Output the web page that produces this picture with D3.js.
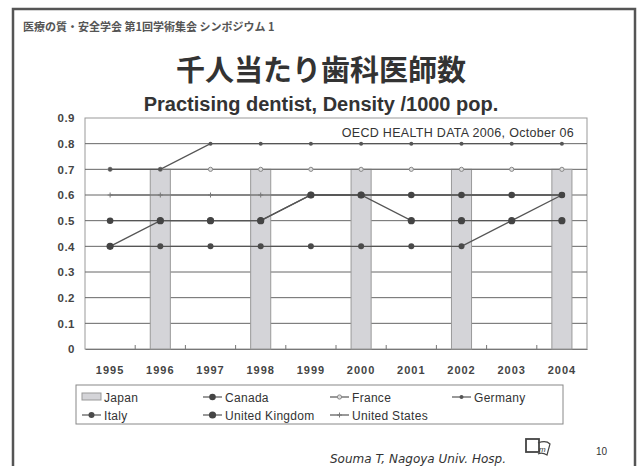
<!DOCTYPE html>
<html>
<head>
<meta charset="utf-8">
<script src="https://cdn.jsdelivr.net/npm/d3@7"></script>
<style>
  body { margin: 0; background: #fff; }
  svg { display: block; font-family: "Liberation Sans", Arial, sans-serif; }
</style>
</head>
<body>
<svg id="chart" width="641" height="466"></svg>
<script>
// years on the x axis
const years = ["1995", "1996", "1997", "1998", "1999", "2000", "2001", "2002", "2003", "2004"];
const yTicks = [0, 0.1, 0.2, 0.3, 0.4, 0.5, 0.6, 0.7, 0.8, 0.9];

// Japan is only surveyed every second year
const japan = [null, 0.7, null, 0.7, null, 0.7, null, 0.7, null, 0.7];
const canada = [0.5, 0.5, 0.5, 0.5, 0.6, 0.6, 0.6, 0.6, 0.6, 0.6];
const france = [0.7, 0.7, 0.7, 0.7, 0.7, 0.7, 0.7, 0.7, 0.7, 0.7];
const germany = [0.7, 0.7, 0.8, 0.8, 0.8, 0.8, 0.8, 0.8, 0.8, 0.8];
const italy = [0.4, 0.4, 0.4, 0.4, 0.4, 0.4, 0.4, 0.4, 0.5, 0.6];
const uk = [0.4, 0.5, 0.5, 0.5, 0.6, 0.6, 0.5, 0.5, 0.5, 0.5];
const usa = [0.6, 0.6, 0.6, 0.6, 0.6, 0.6, 0.6, 0.6, 0.6, 0.6];

const lineSeries = [
  { name: "United States", values: usa, marker: "plus" },
  { name: "France", values: france, marker: "tri" },
  { name: "Germany", values: germany, marker: "small" },
  { name: "Italy", values: italy, marker: "dot" },
  { name: "Canada", values: canada, marker: "diamond" },
  { name: "United Kingdom", values: uk, marker: "big" }
];

const legendRows = [
  ["Japan", "Canada", "France", "Germany"],
  ["Italy", "United Kingdom", "United States"]
];

const svg = d3.select("#chart");

// slide frame
svg.append("rect")
  .attr("x", 13).attr("y", 9)
  .attr("width", 622).attr("height", 470)
  .attr("fill", "none").attr("stroke", "#555").attr("stroke-width", 2.5);

svg.append("text")
  .attr("x", 23).attr("y", 31)
  .attr("font-family", "'Noto Sans CJK JP', sans-serif")
  .attr("font-size", 11).attr("font-weight", "bold").attr("fill", "#555")
  .text("医療の質・安全学会 第1回学術集会  シンポジウム 1");

svg.append("text")
  .attr("x", 321).attr("y", 81)
  .attr("text-anchor", "middle")
  .attr("font-family", "'Noto Sans CJK JP', sans-serif")
  .attr("font-size", 29).attr("font-weight", "bold").attr("fill", "#333")
  .text("千人当たり歯科医師数");

svg.append("text")
  .attr("x", 321).attr("y", 111)
  .attr("text-anchor", "middle")
  .attr("font-size", 20).attr("font-weight", "bold").attr("fill", "#333")
  .text("Practising dentist, Density /1000 pop.");

// plot area
const plot = { left: 85, right: 587, top: 118, bottom: 349 };

const x = d3.scaleBand().domain(years).range([plot.left, plot.right]);
const y = d3.scaleLinear().domain([0, 0.9]).range([plot.bottom, plot.top]);

svg.append("rect")
  .attr("x", plot.left).attr("y", plot.top)
  .attr("width", plot.right - plot.left).attr("height", plot.bottom - plot.top)
  .attr("fill", "#fff").attr("stroke", "#999").attr("stroke-width", 1);

// grid lines
svg.append("g")
  .selectAll("line")
  .data(yTicks.filter(d => d > 0 && d < 0.9))
  .join("line")
  .attr("x1", plot.left).attr("x2", plot.right)
  .attr("y1", d => y(d)).attr("y2", d => y(d))
  .attr("stroke", "#666").attr("stroke-width", 1);

// y axis labels
const yAxis = d3.axisLeft(y).tickValues(yTicks).tickSize(0).tickPadding(10)
  .tickFormat(d => d === 0 ? "0" : d3.format(".1f")(d));
const yg = svg.append("g").attr("transform", `translate(${plot.left},0)`).call(yAxis);
yg.select(".domain").remove();
yg.selectAll("text").attr("font-size", 11.5).attr("font-weight", "bold").attr("fill", "#444")
  .attr("letter-spacing", 0.5)
  .attr("font-family", "'Liberation Sans', Arial, sans-serif");

// x axis: ticks inside at band boundaries
const xAxis = d3.axisBottom(x).tickSize(0).tickPadding(17);
const xg = svg.append("g").attr("transform", `translate(0,${plot.bottom})`).call(xAxis);
xg.select(".domain").attr("stroke", "#777");
xg.selectAll("text").attr("font-size", 11).attr("font-weight", "bold").attr("fill", "#444")
  .attr("letter-spacing", 1)
  .attr("font-family", "'Liberation Sans', Arial, sans-serif");
svg.append("g")
  .selectAll("line")
  .data(years.slice(1))
  .join("line")
  .attr("x1", d => x(d)).attr("x2", d => x(d))
  .attr("y1", plot.bottom).attr("y2", plot.bottom - 4)
  .attr("stroke", "#777");

// Japan bars
const barW = x.bandwidth() * 0.4;
svg.append("g")
  .selectAll("rect")
  .data(years.map((yr, i) => ({ yr, v: japan[i] })).filter(d => d.v != null))
  .join("rect")
  .attr("x", d => x(d.yr) + (x.bandwidth() - barW) / 2)
  .attr("y", d => y(d.v))
  .attr("width", barW)
  .attr("height", d => y(0) - y(d.v))
  .attr("fill", "#d4d4d8").attr("stroke", "#999").attr("stroke-width", 1);

// marker drawing
function drawMarker(g, type, cx, cy) {
  if (type === "plus") {
    g.append("path").attr("d", `M${cx - 2.5},${cy}H${cx + 2.5}M${cx},${cy - 2.5}V${cy + 2.5}`)
      .attr("stroke", "#777").attr("stroke-width", 1);
  } else if (type === "tri") {
    g.append("path").attr("d", d3.symbol(d3.symbolCircle, 14)())
      .attr("transform", `translate(${cx},${cy})`)
      .attr("fill", "#ddd").attr("stroke", "#888").attr("stroke-width", 1);
  } else if (type === "small") {
    g.append("circle").attr("cx", cx).attr("cy", cy).attr("r", 2).attr("fill", "#555");
  } else if (type === "dot") {
    g.append("circle").attr("cx", cx).attr("cy", cy).attr("r", 3).attr("fill", "#4a4a4a");
  } else if (type === "diamond") {
    g.append("path").attr("d", d3.symbol(d3.symbolCircle, 34)())
      .attr("transform", `translate(${cx},${cy})`).attr("fill", "#444");
  } else {
    g.append("circle").attr("cx", cx).attr("cy", cy).attr("r", 3.6).attr("fill", "#444");
  }
}

const line = d3.line()
  .defined(d => d.v != null)
  .x(d => x(d.yr) + x.bandwidth() / 2)
  .y(d => y(d.v));

const seriesG = svg.append("g");
lineSeries.forEach(s => {
  const pts = years.map((yr, i) => ({ yr, v: s.values[i] }));
  seriesG.append("path").datum(pts)
    .attr("d", line)
    .attr("fill", "none")
    .attr("stroke", s.marker === "plus" || s.marker === "tri" ? "#777" : "#555")
    .attr("stroke-width", 1.3);
  const mg = seriesG.append("g");
  pts.filter(d => d.v != null).forEach(d => drawMarker(mg, s.marker, x(d.yr) + x.bandwidth() / 2, y(d.v)));
});

svg.append("text")
  .attr("x", 574).attr("y", 137)
  .attr("text-anchor", "end")
  .attr("font-size", 12.5).attr("letter-spacing", 0.3).attr("fill", "#333")
  .text("OECD HEALTH DATA 2006, October 06");

// legend
const legend = svg.append("g");
legend.append("rect")
  .attr("x", 76).attr("y", 385).attr("width", 487).attr("height", 39)
  .attr("fill", "#fff").attr("stroke", "#888").attr("stroke-width", 1);
const colX = [82, 203, 330, 452];
const markerOf = { "Canada": "diamond", "France": "tri", "Germany": "small", "Italy": "dot", "United Kingdom": "big", "United States": "plus" };
legendRows.forEach((row, r) => {
  const ly = 397 + r * 18;
  row.forEach((name, c) => {
    const lx = colX[c];
    if (name === "Japan") {
      legend.append("rect").attr("x", lx).attr("y", ly - 4).attr("width", 19).attr("height", 7)
        .attr("fill", "#d4d4d8").attr("stroke", "#999");
    } else {
      legend.append("line").attr("x1", lx).attr("x2", lx + 19).attr("y1", ly).attr("y2", ly)
        .attr("stroke", "#555").attr("stroke-width", 1.2);
      drawMarker(legend, markerOf[name], lx + 9.5, ly);
    }
    legend.append("text").attr("x", lx + 22).attr("y", ly + 4.5)
      .attr("font-size", 12).attr("letter-spacing", 0.3).attr("fill", "#333")
      .text(name);
  });
});

// footer
svg.append("text")
  .attr("x", 330).attr("y", 463)
  .attr("font-size", 12).attr("font-style", "italic").attr("fill", "#333")
  .attr("font-family", "'DejaVu Sans', sans-serif")
  .text("Souma T,  Nagoya Univ. Hosp.");
const logo = svg.append("g").attr("transform", "translate(526,437)");
logo.append("rect").attr("x", 0).attr("y", 2).attr("width", 13).attr("height", 13)
  .attr("fill", "#fff").attr("stroke", "#444").attr("stroke-width", 1.8);
logo.append("path").attr("d", "M12,6 Q20,3 24,7 L21,18 Q16,15 12,17")
  .attr("fill", "none").attr("stroke", "#444").attr("stroke-width", 1.2);
logo.append("text").attr("x", 13).attr("y", 15).attr("font-size", 8).attr("font-style", "italic")
  .attr("fill", "#333").text("m");
svg.append("text")
  .attr("x", 596).attr("y", 455)
  .attr("font-size", 10).attr("fill", "#333")
  .text("10");
</script>
</body>
</html>
